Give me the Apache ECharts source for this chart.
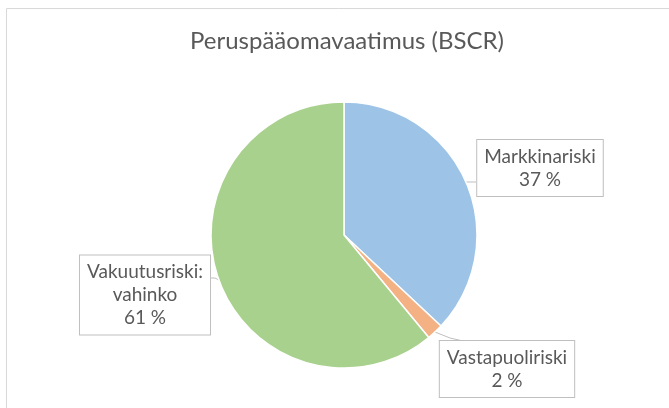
<!DOCTYPE html>
<html>
<head>
<meta charset="utf-8">
<script src="https://cdn.jsdelivr.net/npm/echarts@6/dist/echarts.min.js"></script>
<style>
  html, body { margin: 0; padding: 0; background: #fff; }
  #chart { width: 669px; height: 408px; }
</style>
</head>
<body>
<div id="chart"></div>
<script>
// data
var titleText = 'Peruspääomavaatimus (BSCR)';
var names = ['Markkinariski', 'Vastapuoliriski', 'Vakuutusriski: vahinko'];
var values = [37, 2, 61];
var colors = ['#9dc3e6', '#f4b183', '#a9d18e'];

// where each callout box sits (center) and its leader line
var boxPos = [[540, 168], [507, 369], [145, 295]];
var linePts = [
  [[466, 182], [470, 182], [476, 182]],
  [[435, 332], [450, 338], [463, 341]],
  [[219, 280], [215, 278], [211, 278]]
];

var chart = echarts.init(document.getElementById('chart'));

var pieData = names.map(function (n, i) {
  return { name: n, value: values[i], itemStyle: { color: colors[i] } };
});

chart.setOption({
  animation: false,
  title: {
    text: titleText,
    left: 342,
    top: 24,
    textAlign: 'center',
    textStyle: { fontFamily: 'Lato', fontSize: 24, fontWeight: 'normal', color: '#595959' }
  },
  graphic: [{
    type: 'rect',
    shape: { x: 6.5, y: 8.5, width: 700, height: 500 },
    style: { fill: 'none', stroke: '#d9d9d9', lineWidth: 1 },
    silent: true
  }],
  series: [{
    type: 'pie',
    center: [344, 235],
    radius: 133,
    startAngle: 90,
    clockwise: true,
    data: pieData,
    itemStyle: { borderColor: '#fff', borderWidth: 1.5 },
    label: {
      show: true,
      position: 'outside',
      formatter: function (p) {
        return p.name.replace(': ', ':\n') + '\n' + Math.round(p.percent) + ' %';
      },
      fontFamily: 'Lato',
      fontSize: 19,
      color: '#595959',
      lineHeight: 23,
      align: 'center',
      backgroundColor: '#fff',
      borderColor: '#bfbfbf',
      borderWidth: 1,
      padding: [5, 7]
    },
    labelLine: { show: true, lineStyle: { color: '#bfbfbf', width: 1 } },
    labelLayout: function (p) {
      var i = p.dataIndex;
      return {
        x: boxPos[i][0],
        y: boxPos[i][1],
        align: 'center',
        verticalAlign: 'middle',
        labelLinePoints: linePts[i]
      };
    },
    emphasis: { disabled: true }
  }]
});
</script>
</body>
</html>
